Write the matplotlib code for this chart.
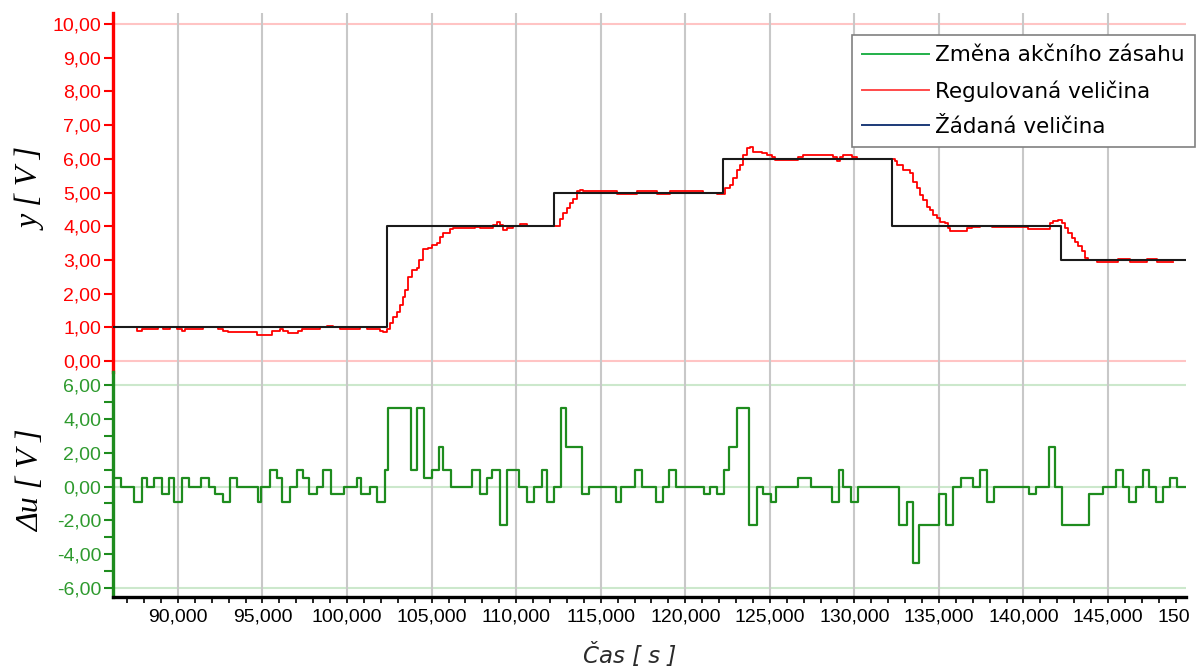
import numpy as np
import matplotlib
matplotlib.use("Agg")
import matplotlib.pyplot as plt
from matplotlib.ticker import MultipleLocator, FuncFormatter

# time axis range [s]
t_start = 86.16
t_end = 149.61

# setpoint (Zadana velicina) - change times and values
w_t = [86.16, 102.34, 112.24, 122.24, 132.24, 142.24, 149.55]
w_v = [1.0, 4.0, 5.0, 6.0, 4.0, 3.0, 3.0]

# controlled variable (Regulovana velicina) - step samples
y_t = [86.16, 87.56, 87.85, 88.84, 89.14, 89.53, 89.92, 90.22, 90.42, 91.50,
       92.39, 92.68, 92.98, 94.65, 95.54, 96.03, 96.23, 96.53, 97.12, 97.32,
       98.40, 98.80, 99.19, 99.58, 100.77, 101.16, 101.95, 102.15, 102.38,
       102.54, 102.74, 102.93, 103.13, 103.29, 103.43, 103.62, 103.82, 104.12,
       104.27, 104.47, 104.81, 105.00, 105.30, 105.49, 105.69, 106.08, 106.28,
       107.56, 107.86, 108.65, 108.84, 109.04, 109.24, 109.44, 109.83, 110.22,
       110.62, 112.39, 112.59, 112.79, 112.98, 113.18, 113.38, 113.58, 113.77,
       113.97, 115.94, 117.12, 118.31, 119.10, 121.07, 121.86, 122.35, 122.64,
       122.84, 123.04, 123.24, 123.43, 123.63, 123.83, 124.02, 124.52, 124.81,
       125.11, 125.31, 126.69, 126.98, 128.75, 128.95, 129.15, 129.35, 129.84,
       130.13, 132.40, 132.50, 132.89, 133.29, 133.49, 133.68, 133.88, 134.08,
       134.27, 134.47, 134.67, 134.87, 135.06, 135.36, 135.56, 135.65, 136.64,
       136.94, 137.43, 138.12, 140.29, 141.57, 141.77, 142.06, 142.26, 142.46,
       142.65, 142.85, 143.05, 143.24, 143.44, 143.64, 143.84, 144.33, 145.61,
       146.30, 147.28, 147.88, 148.86]
y_v = [1.00, 0.90, 0.95, 1.00, 0.95, 1.00, 0.95, 0.90, 0.95, 1.00,
       0.95, 0.88, 0.86, 0.78, 0.88, 0.95, 0.88, 0.83, 0.88, 0.95,
       1.00, 1.05, 1.00, 0.95, 1.00, 0.95, 0.90, 0.85, 0.95,
       1.12, 1.31, 1.46, 1.66, 1.91, 2.11, 2.50, 2.70, 2.75,
       3.00, 3.31, 3.35, 3.44, 3.49, 3.69, 3.81, 3.91, 3.94,
       3.99, 3.94, 4.04, 4.12, 4.04, 3.89, 3.94, 4.00, 4.06,
       4.00, 4.00, 4.20, 4.40, 4.55, 4.70, 4.80, 5.05, 5.08,
       5.04, 4.95, 5.03, 4.95, 5.03, 5.00, 4.95, 5.12, 5.22,
       5.42, 5.67, 5.82, 6.11, 6.31, 6.36, 6.21, 6.16, 6.11,
       6.04, 5.96, 6.04, 6.11, 6.04, 5.94, 6.04, 6.11, 6.04,
       6.00, 5.95, 5.81, 5.68, 5.58, 5.32, 5.12, 4.92, 4.77,
       4.58, 4.48, 4.33, 4.23, 4.13, 4.08, 3.94, 3.86, 3.94,
       3.97, 4.01, 3.97, 3.92, 4.08, 4.16, 4.18, 4.10, 3.94,
       3.79, 3.64, 3.54, 3.40, 3.25, 3.05, 3.00, 2.95, 3.02,
       2.95, 3.02, 2.95, 2.95]

# change of control action (Zmena akcniho zasahu) - step samples
du_t = [86.16, 86.63, 87.43, 87.90, 88.16, 88.61, 89.04, 89.47, 89.76, 90.22,
        90.67, 91.39, 91.82, 92.22, 92.67, 93.10, 93.51, 94.73, 94.92, 95.45,
        95.84, 96.16, 96.63, 97.02, 97.37, 97.76, 98.20, 98.59, 99.04, 99.82,
        100.61, 100.84, 101.33, 101.78, 102.22, 102.43, 103.80, 104.14, 104.53,
        105.04, 105.45, 105.65, 106.14, 107.40, 107.86, 108.29, 108.59, 109.04,
        109.47, 110.16, 110.66, 111.07, 111.50, 111.80, 112.25, 112.65, 112.94,
        113.87, 114.30, 115.88, 116.20, 117.02, 117.46, 118.25, 118.66, 119.05,
        119.43, 121.10, 121.46, 121.85, 122.29, 122.58, 123.04, 123.76, 124.22,
        124.61, 125.05, 125.36, 126.65, 127.41, 128.70, 129.11, 129.35, 129.78,
        130.19, 132.66, 133.09, 133.49, 133.82, 135.02, 135.42, 135.85, 136.29,
        137.03, 137.43, 137.82, 138.26, 140.35, 140.72, 141.53, 141.86, 142.30,
        143.89, 144.72, 145.45, 145.90, 146.24, 146.65, 147.05, 147.42, 147.84,
        148.27, 148.66, 149.10, 149.61]
du_v = [0.5, 0.0, -0.9, 0.5, 0.0, 0.5, -0.45, 0.5, -0.9, 0.5,
        0.0, 0.5, 0.0, -0.45, -0.9, 0.5, 0.0, -0.9, 0.0, 1.0,
        0.5, -0.9, 0.0, 1.0, 0.5, -0.45, 0.0, 1.0, -0.45, 0.0,
        0.5, -0.45, 0.0, -0.9, 1.0, 4.65, 1.0, 4.65, 0.5,
        1.0, 2.35, 1.0, 0.0, 1.0, -0.45, 0.5, 1.0, -2.25,
        1.0, 0.0, -0.9, 0.0, 1.0, -0.9, 0.0, 4.65, 2.35,
        -0.45, 0.0, -0.9, 0.0, 1.0, 0.0, -0.9, 0.0, 1.0,
        0.0, -0.45, 0.0, -0.45, 1.0, 2.35, 4.65, -2.25, 0.0,
        -0.45, -0.9, 0.0, 0.5, 0.0, -0.9, 1.0, 0.0, -0.9,
        0.0, -2.25, -0.9, -4.5, -2.25, -0.45, -2.25, 0.0, 0.5,
        0.0, 1.0, -0.9, 0.0, -0.45, 0.0, 2.35, 0.0, -2.25,
        -0.45, 0.0, 1.0, 0.0, -0.9, 0.0, 1.0, 0.0, -0.9,
        0.0, 0.5, 0.0, 0.0]

y_ref = [0.0, 10.0]
du_ref = [-6.0, 0.0, 6.0]

labels = ["Změna akčního zásahu", "Regulovaná veličina", "Žádaná veličina"]

RED = "#ff0000"
GREEN = "#1e8c1e"
TICKFONT = "Liberation Sans"

fig = plt.figure(figsize=(11.97, 6.72), dpi=100)
W, H = 1197.0, 672.0
ax1 = fig.add_axes([113 / W, 1 - 372 / H, 1073 / W, 359 / H])
ax2 = fig.add_axes([113 / W, 1 - 597 / H, 1073 / W, 225 / H], sharex=ax1)

# reference lines
for v in y_ref:
    ax1.axhline(v, color="#ffc4c4", lw=1.5, zorder=0)
for v in du_ref:
    ax2.axhline(v, color="#cce8cc", lw=1.5, zorder=0)

# signals
l_y, = ax1.step(y_t, y_v, where="post", color=RED, lw=1.3, zorder=2)
l_w, = ax1.step(w_t, w_v, where="post", color="#1a1a1a", lw=1.5, zorder=3)
l_du, = ax2.step(du_t, du_v, where="post", color=GREEN, lw=1.6, zorder=2)

ax1.set_xlim(t_start, t_end)
ax1.set_ylim(-0.33, 10.33)
ax2.set_ylim(-6.53, 6.77)

fmt2 = FuncFormatter(lambda v, p: f"{v:.2f}".replace(".", ","))
fmt3 = FuncFormatter(lambda v, p: f"{v:.3f}".replace(".", ","))

for ax in (ax1, ax2):
    ax.xaxis.set_major_locator(MultipleLocator(5))
    ax.xaxis.set_minor_locator(MultipleLocator(1))
    ax.grid(axis="x", which="major", color="#c8c8c8", lw=1.5, zorder=0)
    ax.spines["top"].set_visible(False)
    ax.spines["right"].set_visible(False)
    ax.set_facecolor("none")

ax1.spines["bottom"].set_visible(False)
ax1.tick_params(axis="x", which="both", bottom=False, labelbottom=False)

ax1.spines["left"].set_color(RED)
ax1.spines["left"].set_linewidth(2.4)
ax1.yaxis.set_major_locator(MultipleLocator(1))
ax1.yaxis.set_major_formatter(fmt2)
ax1.tick_params(axis="y", colors=RED, length=6.5, width=1.5, pad=2,
                labelsize=14)

ax2.spines["left"].set_color(GREEN)
ax2.spines["left"].set_linewidth(2.4)
ax2.spines["bottom"].set_color("black")
ax2.spines["bottom"].set_linewidth(2.4)
ax2.yaxis.set_major_locator(MultipleLocator(2))
ax2.yaxis.set_minor_locator(MultipleLocator(1))
ax2.yaxis.set_major_formatter(fmt2)
ax2.tick_params(axis="y", which="both", colors=GREEN, length=6.5, width=1.5,
                pad=2, labelsize=14)
ax2.tick_params(axis="y", which="major", labelcolor="#2e9a2e")
ax2.xaxis.set_major_formatter(fmt3)
ax2.tick_params(axis="x", which="both", length=4.5, width=1.2, pad=4,
                labelsize=14, colors="black")

for lab in ax1.get_yticklabels() + ax2.get_yticklabels() + ax2.get_xticklabels():
    lab.set_fontfamily(TICKFONT)

# last tick label, cut by the picture edge
ax2.annotate("150", xy=(1.0, 0.0), xycoords="axes fraction",
             xytext=(3, -9), textcoords="offset points", ha="right", va="top",
             fontsize=14, fontfamily=TICKFONT)

ax1.set_ylabel("y [ V ]", fontfamily="Liberation Serif", style="italic",
               fontsize=23)
ax1.yaxis.set_label_coords(-0.062, 0.51)
ax2.set_ylabel("Δu [ V ]", fontfamily="Liberation Serif", style="italic",
               fontsize=23)
ax2.yaxis.set_label_coords(-0.062, 0.516)
ax2.set_xlabel("Čas [ s ]", fontfamily="DejaVu Sans", style="italic",
               fontsize=16.5, color="#2a2a2a")
ax2.xaxis.set_label_coords((630 - 113) / 1073, -0.205)

leg = ax1.legend([l_du, l_y, l_w], labels, loc="upper right",
                 bbox_to_anchor=(1195 / W, 1 - 35 / H),
                 bbox_transform=fig.transFigure, borderaxespad=0,
                 fancybox=False, framealpha=1, edgecolor="#808080",
                 fontsize=15.5, handlelength=3.1, handletextpad=0.3,
                 labelspacing=0.7, borderpad=0.47)
leg.get_frame().set_linewidth(1.2)
leg.set_zorder(10)
for line, col in zip(leg.get_lines(), ["#22b04a", "#ff4a4a", "#1c3a78"]):
    line.set_color(col)
    line.set_linewidth(1.4)

fig.savefig("out.png", dpi=100)
